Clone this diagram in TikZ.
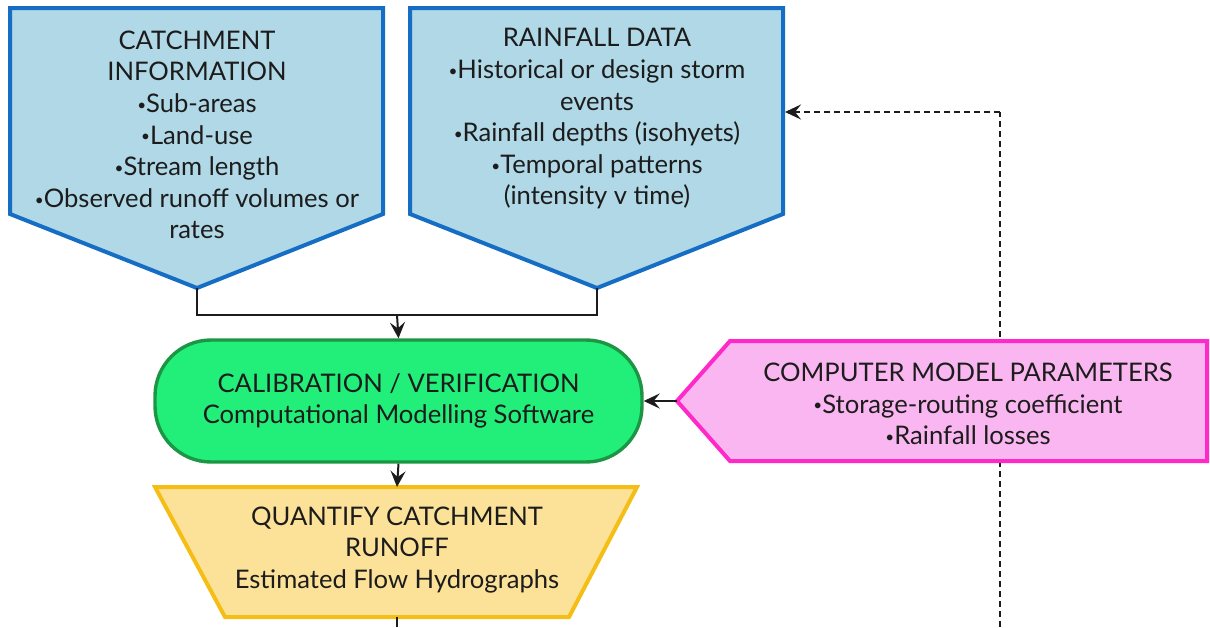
\documentclass[tikz,border=0pt]{standalone}
\usepackage{fontspec}
\usepackage{graphicx}
\setmainfont{Lato}
\usetikzlibrary{arrows.meta}
\definecolor{infofill}{RGB}{176,216,230}
\definecolor{infoline}{RGB}{22,110,196}
\definecolor{calibfill}{RGB}{34,238,122}
\definecolor{calibline}{RGB}{28,150,68}
\definecolor{runofffill}{RGB}{252,226,152}
\definecolor{runoffline}{RGB}{245,190,22}
\definecolor{paramfill}{RGB}{250,182,240}
\definecolor{paramline}{RGB}{255,40,200}
\definecolor{inkgrey}{RGB}{28,28,28}
\newcommand\bul{\raisebox{0.18ex}{\scalebox{0.6}{•}}}
\tikzset{
  infobox/.style = {fill=infofill, draw=infoline, line width=2pt, line join=miter},
  runoffbox/.style = {fill=runofffill, draw=runoffline, line width=2pt},
  parambox/.style = {fill=paramfill, draw=paramline, line width=2pt},
  calibbox/.style = {fill=calibfill, draw=calibline, line width=1.7pt,
                     rounded corners=28pt, minimum width=243.5pt, minimum height=61pt},
  label/.style = {text=inkgrey, align=center, font=\fontsize{12.8}{15.8}\selectfont},
  flow/.style = {draw=inkgrey, line width=1pt},
  tip/.style = {-{Stealth[length=8pt,width=7.5pt,inset=3pt]}},
  feedback/.style = {draw=inkgrey, line width=1.1pt, dash pattern=on 3pt off 2pt}
}
\begin{document}
\begin{tikzpicture}[x=0.5pt, y=-0.5pt]
	\useasboundingbox (0,0) rectangle (1210,627);
	% corner points of the drawn shapes
	\coordinate (catchtip) at (197,288);
	\coordinate (raintip) at (597,288);
	\coordinate (join) at (397,315);
	\coordinate (paramtip) at (677,401);
	\coordinate (runofftop) at (397,487);
	\coordinate (runoffbase) at (397,617);
	\coordinate (runoffexit) at (397,627);
	\coordinate (loopfoot) at (1000,627);
	\coordinate (loopbend) at (1000,112);
	\coordinate (rainside) at (785,112);
	% feedback loop, passes behind the parameter box
	\draw [feedback] (loopfoot) -- (loopbend);
	\draw [feedback, tip] (loopbend) -- (rainside);
	% input boxes
	\draw [infobox] (10,8) -- (383,8) -- (383,214) -- (catchtip) -- (10,214) -- cycle;
	\draw [infobox] (410,8) -- (783,8) -- (783,214) -- (raintip) -- (410,214) -- cycle;
	\node [label] (catchtext) at (197,135) {CATCHMENT\\INFORMATION\\\bul Sub-areas\\\bul Land-use\\\bul Stream length\\\bul Observed runoff volumes or\\rates};
	\node [label] (raintext) at (597,119) {RAINFALL DATA\\\bul Historical or design storm\\events\\\bul Rainfall depths (isohyets)\\\bul Temporal patterns\\(intensity v time)};
	% model
	\node [calibbox, label] (calib) at (398.5,401) {CALIBRATION / VERIFICATION\\Computational Modelling Software};
	\draw [parambox] (paramtip) -- (730,341) -- (1207,341) -- (1207,461) -- (730,461) -- cycle;
	\node [label] (params) at (968,404) {COMPUTER MODEL PARAMETERS\\\bul Storage-routing coefficient\\\bul Rainfall losses};
	% output
	\draw [runoffbox] (155,487) -- (637,487) -- (569,617) -- (225,617) -- cycle;
	\node [label] (runoff) at (397,550) {QUANTIFY CATCHMENT\\RUNOFF\\Estimated Flow Hydrographs};
	% connectors
	\draw [flow] (catchtip) |- (join) -| (raintip);
	\draw [flow, tip] (join) -- (calib.north);
	\draw [flow, tip] (paramtip) -- (calib.east);
	\draw [flow, tip] (calib.south) -- (runofftop);
	\draw [flow] (runoffbase) -- (runoffexit);
\end{tikzpicture}
\end{document}
